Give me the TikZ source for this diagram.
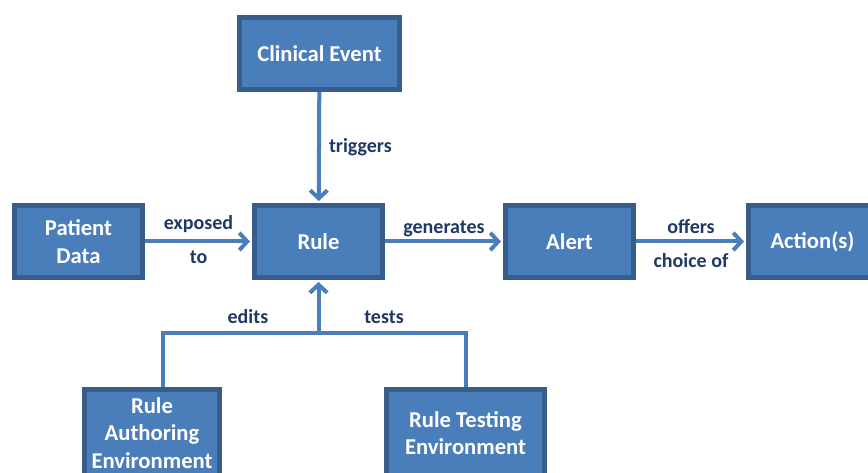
\documentclass[tikz,border=0pt]{standalone}
\usepackage{fontspec}
\setmainfont{Carlito}
\usetikzlibrary{arrows.meta, positioning}

\definecolor{boxfill}{HTML}{4A7EBB}
\definecolor{boxedge}{HTML}{385D8A}
\definecolor{linecol}{HTML}{4A7EBB}
\definecolor{lblcol}{HTML}{203864}

\begin{document}
\begin{tikzpicture}[
  x=0.75pt, y=-0.75pt,
  box/.style={rectangle, draw=boxedge, fill=boxfill, line width=3.75pt, text=white, align=center,
    font=\bfseries\fontsize{17}{20.5}\selectfont, minimum width=96pt, minimum height=54pt, inner sep=2pt},
  lbl/.style={text=lblcol, font=\bfseries\fontsize{15}{18}\selectfont, inner sep=1pt, text height=11pt, text depth=3.5pt},
  arr/.style={-{Straight Barb[length=6pt, width=13pt]}, line width=3pt, draw=linecol, shorten >=1.5pt},
  conn/.style={line width=3pt, draw=linecol}
]
  \useasboundingbox (0,0) rectangle (868,473);
  \clip (0,0) rectangle (868,473);

  % Top row and trigger
  \node[box, minimum width=120pt] (event) at (319.5, 53.5) {Clinical Event};
  \node[box] (patient) at (78.5, 241.5) {Patient\\Data};
  \node[box] (rule) at (318.5, 241.5) {Rule};
  \node[box] (alert) at (569.5, 241.5) {Alert};
  \node[box] (action) at (812.5, 241.5) {Action(s)};

  % Environments
  \node[box, minimum width=101pt, minimum height=65pt] (author) at (152, 433) {Rule\\Authoring\\Environment};
  \node[box, minimum width=118.5pt, minimum height=65pt] (testenv) at (465.5, 433) {Rule Testing\\Environment};

  % Arrows
  \draw[arr] (event) -- node[lbl, midway, right=5pt] (trig) {triggers} (rule);
  \draw[arr] (patient) -- node[lbl, midway, yshift=12.75pt] (exp) {exposed}
                          node[lbl, midway, yshift=-12.75pt] (expto) {to} (rule);
  \draw[arr] (rule) -- node[lbl, midway, yshift=9.4pt] (gen) {generates} (alert);
  \draw[arr] (alert) -- node[lbl, midway, yshift=10pt] (off) {offers}
                        node[lbl, midway, yshift=-16pt] (offchoice) {choice of} (action);

  % Branch below the rule
  \coordinate (split) at (318.5, 333);
  \draw[arr] (split) -- (rule);
  \draw[conn] ([xshift=8.25pt]author.north) |- (split) -| (testenv.north);
  \node[lbl] (edits) at (248, 319) {edits};
  \node[lbl] (tests) at (384, 319) {tests};
\end{tikzpicture}
\end{document}
